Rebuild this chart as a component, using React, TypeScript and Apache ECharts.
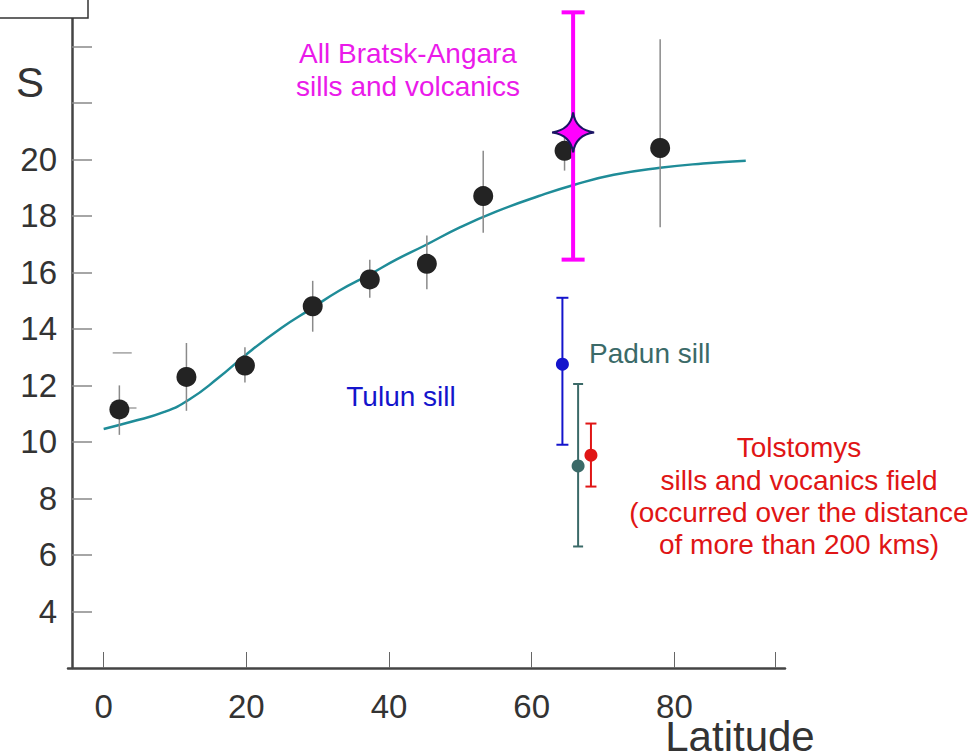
import React, { useEffect, useRef } from "react";
import * as echarts from "echarts";

// ---- data ----
const xTickValues = [0, 20, 40, 60, 80, 94.2];
const xLabelValues = [0, 20, 40, 60, 80];
const yTickValues = [4, 6, 8, 10, 12, 14, 16, 18, 20, 22, 24];
const yLabelValues = [4, 6, 8, 10, 12, 14, 16, 18, 20];

// black points with grey error bars
const pointLat = [2.2, 11.6, 19.8, 29.3, 37.3, 45.3, 53.2, 64.6, 78.0];
const pointS = [11.15, 12.3, 12.7, 14.8, 15.75, 16.3, 18.7, 20.3, 20.4];
const pointLow = [10.25, 11.1, 12.1, 13.9, 15.1, 15.4, 17.4, 19.6, 17.6];
const pointHigh = [12.0, 13.5, 13.35, 15.7, 16.45, 17.3, 20.3, 21.0, 24.25];

// stray dashes near the first point
const dashLat = [2.6, 3.9];
const dashS = [13.15, 11.2];
const dashLen = [19, 10];

// teal model curve
const curveLat = [0, 4, 8.5, 12, 16, 20.5, 25, 29, 33, 37.4, 41, 45, 50, 55, 61, 66, 71.5, 78, 84, 90];
const curveS = [10.46, 10.72, 11.06, 11.5, 12.25, 13.2, 14.05, 14.7, 15.35, 15.94, 16.45, 16.95, 17.6, 18.15, 18.7, 19.1, 19.45, 19.7, 19.85, 19.95];

// special results
const bratsk = { lat: 65.8, s: 20.95, low: 16.45, high: 25.2 };
const tulun = { lat: 64.3, s: 12.75, low: 9.9, high: 15.1 };
const padun = { lat: 66.5, s: 9.15, low: 6.3, high: 12.05 };
const tolstomys = { lat: 68.3, s: 9.53, low: 8.42, high: 10.65 };

const MAGENTA = "#ff00ff";
const MAGENTA_TEXT = "#ea1aea";
const BLUE = "#1414cc";
const PADUN = "#3b6a68";
const RED = "#e01515";
const TEAL = "#1f8c98";

function errorBarSeries(name: string, data: number[][], color: string, width: number, cap: number, z: number) {
  return {
    type: "custom",
    name,
    z,
    data,
    silent: true,
    renderItem: (params: any, api: any) => {
      const x = api.value(0);
      const lo = api.coord([x, api.value(1)]);
      const hi = api.coord([x, api.value(2)]);
      const children: any[] = [
        { type: "line", shape: { x1: lo[0], y1: lo[1], x2: hi[0], y2: hi[1] }, style: { stroke: color, lineWidth: width } },
      ];
      if (cap > 0) {
        children.push(
          { type: "line", shape: { x1: lo[0] - cap / 2, y1: lo[1], x2: lo[0] + cap / 2, y2: lo[1] }, style: { stroke: color, lineWidth: width } },
          { type: "line", shape: { x1: hi[0] - cap / 2, y1: hi[1], x2: hi[0] + cap / 2, y2: hi[1] }, style: { stroke: color, lineWidth: width } }
        );
      }
      return { type: "group", children };
    },
  };
}

const STAR = "path://M50,0 Q56,44 100,50 Q56,56 50,100 Q44,56 0,50 Q44,44 50,0 Z";

export default function App() {
  const ref = useRef<HTMLDivElement>(null);
  useEffect(() => {
    if (!ref.current) return;
    const chart = echarts.init(ref.current, undefined, { renderer: "svg" });
    const font = "'Liberation Sans', Arial, sans-serif";
    const ann = (text: string, x: number, y: number, color: string, align = "center") => ({
      type: "text",
      x,
      y,
      style: { text, fill: color, font: `28px ${font}`, align, verticalAlign: "middle" },
      z: 50,
    });
    chart.setOption({
      animation: false,
      backgroundColor: "#ffffff",
      grid: { left: 68, right: 194, top: 18, bottom: 88, containLabel: false },
      xAxis: {
        type: "value",
        min: -5,
        max: 95.5,
        axisLine: { show: true, onZero: false, lineStyle: { color: "#444", width: 2.5 } },
        axisTick: { show: true, inside: true, length: 16, customValues: xTickValues, lineStyle: { color: "#666", width: 1 } },
        axisLabel: { customValues: xLabelValues, margin: 22, color: "#333", fontSize: 33, fontFamily: font },
        splitLine: { show: false },
      },
      yAxis: {
        type: "value",
        min: 2,
        max: 25,
        offset: -4,
        axisLine: { show: true, onZero: false, lineStyle: { color: "#444", width: 2.5 } },
        axisTick: { show: true, inside: true, length: 20, customValues: yTickValues, lineStyle: { color: "#888", width: 1.5 } },
        axisLabel: { customValues: yLabelValues, margin: 15, color: "#333", fontSize: 33, fontFamily: font },
        splitLine: { show: false },
      },
      graphic: [
        { type: "rect", shape: { x: -2, y: -30, width: 90, height: 48 }, style: { fill: "#fff", stroke: "#333", lineWidth: 1.5 }, z: 60 },
        { type: "text", x: 42, y: 3, style: { text: "Data:", fill: "#222", font: `28px ${font}`, align: "right", verticalAlign: "bottom" }, z: 61 },
        { type: "text", x: 30, y: 82, style: { text: "S", fill: "#333", font: `42px ${font}`, align: "center", verticalAlign: "middle" }, z: 50 },
        { type: "text", x: 740, y: 736, style: { text: "Latitude", fill: "#333", font: `42px ${font}`, align: "center", verticalAlign: "middle" }, z: 50 },
        ann("All Bratsk-Angara", 408, 53, MAGENTA_TEXT),
        ann("sills and volcanics", 408, 86, MAGENTA_TEXT),
        ann("Tulun sill", 401, 396, BLUE),
        ann("Padun sill", 589, 353, PADUN, "left"),
        ann("Tolstomys", 799, 447, RED),
        ann("sills and vocanics field", 799, 480, RED),
        ann("(occurred over the distance", 799, 512, RED),
        ann("of more than 200 kms)", 799, 544, RED),
      ],
      series: [
        {
          type: "line",
          data: curveLat.map((x, i) => [x, curveS[i]]),
          smooth: true,
          showSymbol: false,
          lineStyle: { color: TEAL, width: 2.5 },
          z: 2,
        },
        errorBarSeries("grey", pointLat.map((x, i) => [x, pointLow[i], pointHigh[i]]), "#8a8a8a", 1.5, 0, 3),
        {
          type: "scatter",
          data: dashLat.map((x, i) => ({ value: [x, dashS[i]], symbolSize: [dashLen[i], 1.5] })),
          symbol: "rect",
          itemStyle: { color: "#8a8a8a" },
          z: 3,
        },
        {
          type: "scatter",
          data: pointLat.map((x, i) => [x, pointS[i]]),
          symbol: "circle",
          symbolSize: 20,
          itemStyle: { color: "#232323", opacity: 1 },
          z: 4,
        },
        errorBarSeries("tulun", [[tulun.lat, tulun.low, tulun.high]], BLUE, 2, 12, 5),
        errorBarSeries("padun", [[padun.lat, padun.low, padun.high]], PADUN, 2, 10, 5),
        errorBarSeries("tolstomys", [[tolstomys.lat, tolstomys.low, tolstomys.high]], RED, 2, 11, 5),
        {
          type: "scatter",
          data: [
            { value: [tulun.lat, tulun.s], itemStyle: { color: BLUE, opacity: 1 }, symbolSize: 13 },
            { value: [padun.lat, padun.s], itemStyle: { color: PADUN, opacity: 1 }, symbolSize: 13 },
            { value: [tolstomys.lat, tolstomys.s], itemStyle: { color: RED, opacity: 1 }, symbolSize: 13 },
          ],
          symbol: "circle",
          z: 6,
        },
        errorBarSeries("bratsk", [[bratsk.lat, bratsk.low, bratsk.high]], MAGENTA, 4, 23, 7),
        {
          type: "scatter",
          data: [[bratsk.lat, bratsk.s]],
          symbol: STAR,
          symbolSize: [42, 40],
          itemStyle: { color: MAGENTA, borderColor: "#1b1464", borderWidth: 2, opacity: 1 },
          z: 8,
        },
      ],
    });
    return () => chart.dispose();
  }, []);
  return <div ref={ref} style={{ position: "absolute", left: 0, top: 0, width: 979, height: 756 }} />;
}
